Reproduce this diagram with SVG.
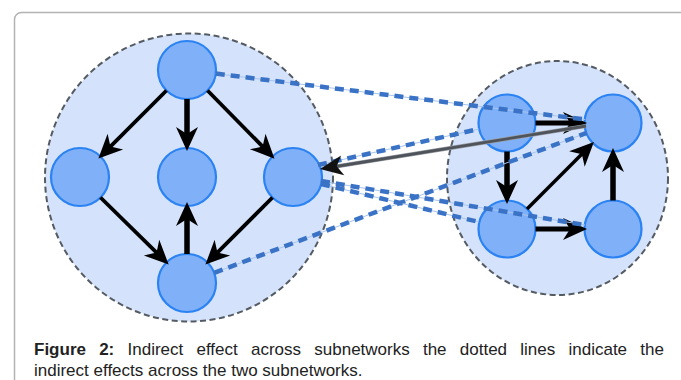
<svg xmlns="http://www.w3.org/2000/svg" width="681" height="380" viewBox="0 0 681 380">
<defs>
<style>
.sub{fill:#d4e3fb;stroke:#555b63;stroke-width:2;stroke-dasharray:6 3.5}
.node{fill:#80b1f8;stroke:#2b82f2;stroke-width:2.2}
.arr{stroke:#000;fill:none;marker-end:url(#ah)}
.dl{stroke:#a9c3ee;stroke-width:1;fill:none}
.dd{stroke:#3a73c6;stroke-width:4.5;stroke-dasharray:9 6;fill:none}
.cap{font-family:"Liberation Sans",Arial,sans-serif;font-size:17px;fill:#222}
</style>
<marker id="ah" markerUnits="userSpaceOnUse" viewBox="-12 -12 26 24" markerWidth="26" markerHeight="24" refX="0" refY="0" orient="auto" overflow="visible">
<path d="M13,0 L-11,-11 L-4,0 L-11,11 Z" fill="#000"/>
</marker>
<marker id="ahg" markerUnits="userSpaceOnUse" viewBox="-12 -12 26 24" markerWidth="26" markerHeight="24" refX="0" refY="0" orient="auto" overflow="visible">
<path d="M13,0 L-10,-10 L-4,0 L-10,10 Z" fill="#111"/>
</marker>
</defs>
<rect x="14.5" y="12.5" width="700" height="400" rx="7" fill="#fff" stroke="#b3b3b3" stroke-width="1.5"/>
<g id="subnet-left"><circle class="sub" cx="189" cy="177.5" r="144"/></g>
<g id="subnet-right"><ellipse class="sub" cx="557.5" cy="178" rx="110.5" ry="117"/></g>
<g id="n-top"><circle class="node" cx="187" cy="70" r="29"/></g>
<g id="n-left"><circle class="node" cx="80" cy="177" r="29"/></g>
<g id="n-center"><circle class="node" cx="187" cy="177" r="29"/></g>
<g id="n-right"><circle class="node" cx="293" cy="177" r="29"/></g>
<g id="n-bottom"><circle class="node" cx="187" cy="283" r="29"/></g>
<g id="n-tl"><circle class="node" cx="507" cy="123" r="28.5"/></g>
<g id="n-tr"><circle class="node" cx="613" cy="123" r="28.5"/></g>
<g id="n-bl"><circle class="node" cx="507" cy="229" r="28.5"/></g>
<g id="n-br"><circle class="node" cx="613" cy="229" r="28.5"/></g>
<g id="connectors">
<line class="arr" x1="166.5" y1="90.5" x2="107.6" y2="149.4" stroke-width="3.8"/>
<line class="arr" x1="187" y1="99" x2="187" y2="138" stroke-width="5.5"/>
<line class="arr" x1="207.5" y1="90.5" x2="265.4" y2="149.4" stroke-width="3.8"/>
<line class="arr" x1="100.5" y1="197.5" x2="159.4" y2="255.4" stroke-width="3.8"/>
<line class="arr" x1="272.5" y1="197.5" x2="214.6" y2="255.4" stroke-width="3.8"/>
<line class="arr" x1="187" y1="254" x2="187" y2="215" stroke-width="5.5"/>
<line class="arr" x1="535.5" y1="123" x2="574" y2="123" stroke-width="5"/>
<line class="arr" x1="507" y1="151.5" x2="507" y2="191" stroke-width="5.5"/>
<line class="arr" x1="527" y1="209" x2="584.7" y2="151.3" stroke-width="3.5"/>
<line class="arr" x1="535.5" y1="229" x2="574" y2="229" stroke-width="5"/>
<line class="arr" x1="613" y1="200.5" x2="613" y2="161" stroke-width="5.5"/>
<line class="dl" x1="215.8" y1="73.6" x2="585.2" y2="119.5"/>
<line class="dd" x1="215.8" y1="73.6" x2="585.2" y2="119.5"/>
<line class="dl" x1="318" y1="165" x2="479" y2="129"/>
<line class="dd" x1="318" y1="165" x2="479" y2="129"/>
<line class="dl" x1="214.2" y1="272.8" x2="586.8" y2="132.8"/>
<line class="dd" x1="214.2" y1="272.8" x2="586.8" y2="132.8"/>
<line class="dl" x1="321" y1="181" x2="585" y2="225"/>
<line class="dd" x1="321" y1="181" x2="585" y2="225"/>
<line class="dl" x1="321" y1="184" x2="479" y2="222"/>
<line class="dd" x1="321" y1="184" x2="479" y2="222"/>
<line x1="586" y1="126" x2="332.8" y2="167" stroke="#9aa0a8" stroke-width="4.2"/>
<line x1="586" y1="126" x2="332.8" y2="167" stroke="#4f535a" stroke-width="2.8" marker-end="url(#ahg)"/>
</g>
<text class="cap" x="34" y="355" word-spacing="8.5"><tspan font-weight="bold">Figure 2:</tspan> Indirect effect across subnetworks the dotted lines indicate the</text>
<text class="cap" x="34" y="376">indirect effects across the two subnetworks.</text>
</svg>
